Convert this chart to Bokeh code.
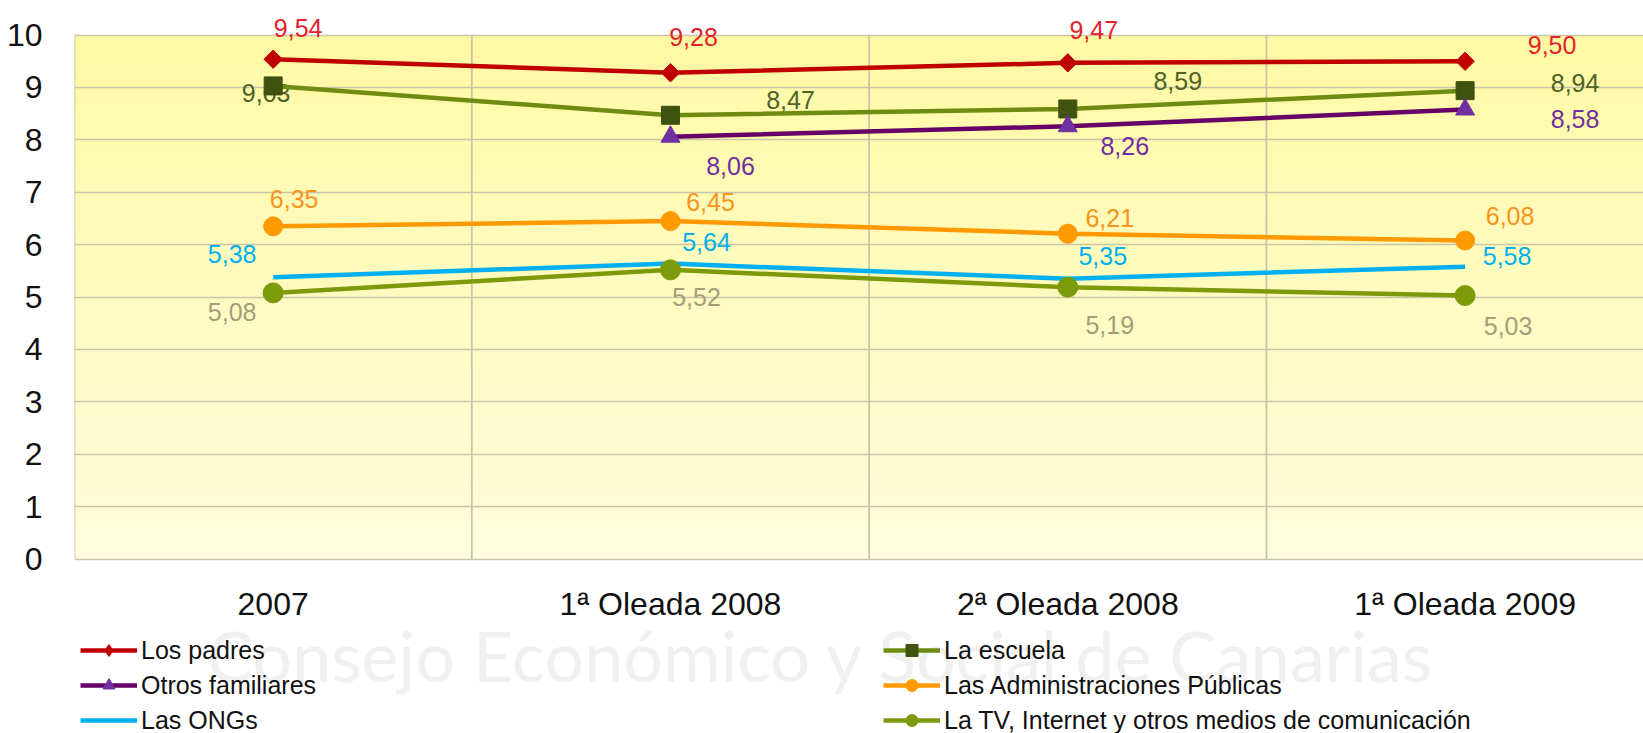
import numpy as np
from bokeh.plotting import figure
from bokeh.models import (Range1d, FixedTicker, ColumnDataSource, LabelSet,
                          Legend, LegendItem, Label)
from bokeh.core.properties import value
from bokeh.embed import file_html
from bokeh.resources import INLINE

# ---------------- data ----------------
categories = ["2007", "1ª Oleada 2008", "2ª Oleada 2008", "1ª Oleada 2009"]
los_padres = [9.54, 9.28, 9.47, 9.50]
la_escuela = [9.03, 8.47, 8.59, 8.94]
otros_familiares = [None, 8.06, 8.26, 8.58]
administraciones = [6.35, 6.45, 6.21, 6.08]
ongs = [5.38, 5.64, 5.35, 5.58]
tv_internet = [5.08, 5.52, 5.19, 5.03]
y_ticks = list(range(0, 11))

series_names = ["Los padres", "La escuela", "Otros familiares",
                "Las Administraciones Públicas", "Las ONGs",
                "La TV, Internet y otros medios de comunicación"]
series_values = [los_padres, la_escuela, otros_familiares,
                 administraciones, ongs, tv_internet]

# ---------------- styles ----------------
line_colors = ["#C00000", "#6F8C12", "#660066", "#FF9900", "#00B0F0", "#7C9A0A"]
marker_types = ["square", "square", "triangle", "circle", None, "circle"]
legend_markers = ["diamond", "square", "triangle", "circle", None, "circle"]
marker_angles = [np.pi / 4, 0, 0, 0, 0, 0]
marker_colors = ["#C00000", "#3F5210", "#7030A0", "#FF9900", None, "#7C9A0A"]
marker_sizes = [13, 18, 19, 19, 0, 20]
legend_marker_sizes = [16, 13, 14, 14, 0, 14]
label_colors = ["#E2222A", "#4F6228", "#7030A0", "#F7941D", "#00B0F0", "#A39E79"]
# label offsets in screen px (dx right, dy up)
label_dx = [[25, 23, 26, 87], [-7, 120, 110, 110], [None, 60, 57, 110],
            [21, 40, 42, 45], [-41, 36, 35, 42], [-41, 26, 42, 43]]
label_dy = [[31, 36, 33, 16], [-7, 15, 28, 8], [None, -29, -20, -10],
            [27, 19, 16, 25], [23, 22, 23, 11], [-19, -27, -38, -30]]

FONT = "Liberation Sans"

xs = list(range(len(categories)))

p = figure(width=1643, height=733,
           x_range=Range1d(-0.5, 3.449), y_range=Range1d(-3.328, 10.660),
           output_backend="svg", toolbar_location=None,
           min_border_left=74, min_border_top=0, min_border_right=0,
           min_border_bottom=0, border_fill_color="white",
           background_fill_color="white", outline_line_color=None)

# gradient background of the plot area (0..10)
n = 256
t = np.linspace(0.0, 1.0, n)  # 0 bottom -> 1 top
img = np.empty((n, 1), dtype=np.uint32)
view = img.view(dtype=np.uint8).reshape((n, 1, 4))
view[:, 0, 0] = 255
view[:, 0, 1] = np.round(253 - 4 * t).astype(np.uint8)
view[:, 0, 2] = np.round(222 - 58 * t).astype(np.uint8)
view[:, 0, 3] = 255
p.image_rgba(image=[img], x=-0.5, y=y_ticks[0], dw=len(categories),
             dh=y_ticks[-1] - y_ticks[0], level="image")

# axes
p.xaxis.fixed_location = 0
p.xaxis.ticker = FixedTicker(ticks=xs)
p.xaxis.major_label_overrides = {i: c for i, c in enumerate(categories)}
p.xaxis.major_label_text_font = FONT
p.xaxis.major_label_text_font_size = "32px"
p.xaxis.major_label_text_color = "#111111"
p.xaxis.major_label_standoff = 21
p.yaxis.ticker = FixedTicker(ticks=y_ticks)
p.yaxis.major_label_text_font = FONT
p.yaxis.major_label_text_font_size = "32px"
p.yaxis.major_label_text_color = "#111111"
p.yaxis.major_label_standoff = 26
for ax in (p.xaxis, p.yaxis):
    ax.axis_line_color = None
    ax.major_tick_line_color = None
    ax.minor_tick_line_color = None

p.ygrid.ticker = FixedTicker(ticks=y_ticks)
p.ygrid.grid_line_color = "#C9C5A8"
p.ygrid.grid_line_width = 1.6
p.xgrid.visible = False

# vertical category separators + left border of the plot area
bounds = [i - 0.5 for i in range(len(categories))]
p.segment(x0=bounds, y0=[y_ticks[0]] * len(bounds), x1=bounds,
          y1=[y_ticks[-1]] * len(bounds), line_color="#C9C5A8",
          line_width=1.8, level="underlay")

# watermark
p.add_layout(Label(x=132, y=79, x_units="screen", y_units="screen",
                   text="Consejo Económico y Social de Canarias",
                   text_font="Lato", text_font_size="70px",
                   text_color="#F0F0F0", text_baseline="alphabetic",
                   level="underlay"))

# data labels (under the markers)
for i, vals in enumerate(series_values):
    lx, ly, lt, ldx, ldy = [], [], [], [], []
    for j, v in enumerate(vals):
        if v is None:
            continue
        lx.append(xs[j]); ly.append(v)
        lt.append(f"{v:.2f}".replace(".", ","))
        ldx.append(label_dx[i][j]); ldy.append(label_dy[i][j])
    src = ColumnDataSource(dict(x=lx, y=ly, text=lt, dx=ldx, dy=ldy))
    p.add_layout(LabelSet(x="x", y="y", text="text", source=src,
                          x_offset="dx", y_offset="dy",
                          text_align="center", text_baseline="middle",
                          text_color=label_colors[i], text_font=value(FONT),
                          text_font_size="25px", level="underlay"))

# lines and markers
legend_renderers = []
for i, vals in enumerate(series_values):
    yv = np.array(vals, dtype=float)
    src = ColumnDataSource(dict(x=xs, y=yv))
    line_r = p.line("x", "y", source=src, line_color=line_colors[i], line_width=4.5)
    rs = [line_r]
    if marker_types[i]:
        p.scatter("x", "y", source=src, marker=marker_types[i],
                  size=marker_sizes[i], angle=marker_angles[i],
                  fill_color=marker_colors[i],
                  line_color=marker_colors[i], line_width=1)
        # legend swatch marker (a single non-plotted point)
        rs.append(p.scatter(x=[np.nan], y=[np.nan], marker=legend_markers[i],
                            size=legend_marker_sizes[i],
                            fill_color=marker_colors[i],
                            line_color=marker_colors[i]))
    legend_renderers.append(rs)


def make_legend(idx, xoff):
    leg = Legend(items=[LegendItem(label=series_names[k], renderers=legend_renderers[k])
                        for k in idx],
                 location=(xoff, -2), orientation="vertical",
                 padding=0, margin=0, spacing=5, glyph_width=57, glyph_height=30,
                 label_height=30, label_standoff=4,
                 label_text_font=FONT, label_text_font_size="25px",
                 label_text_color="#111111",
                 border_line_alpha=0, background_fill_alpha=0)
    p.add_layout(leg)


make_legend([0, 2, 4], 6)
make_legend([1, 3, 5], 809)

open("out.html", "w").write(file_html(p, INLINE))
